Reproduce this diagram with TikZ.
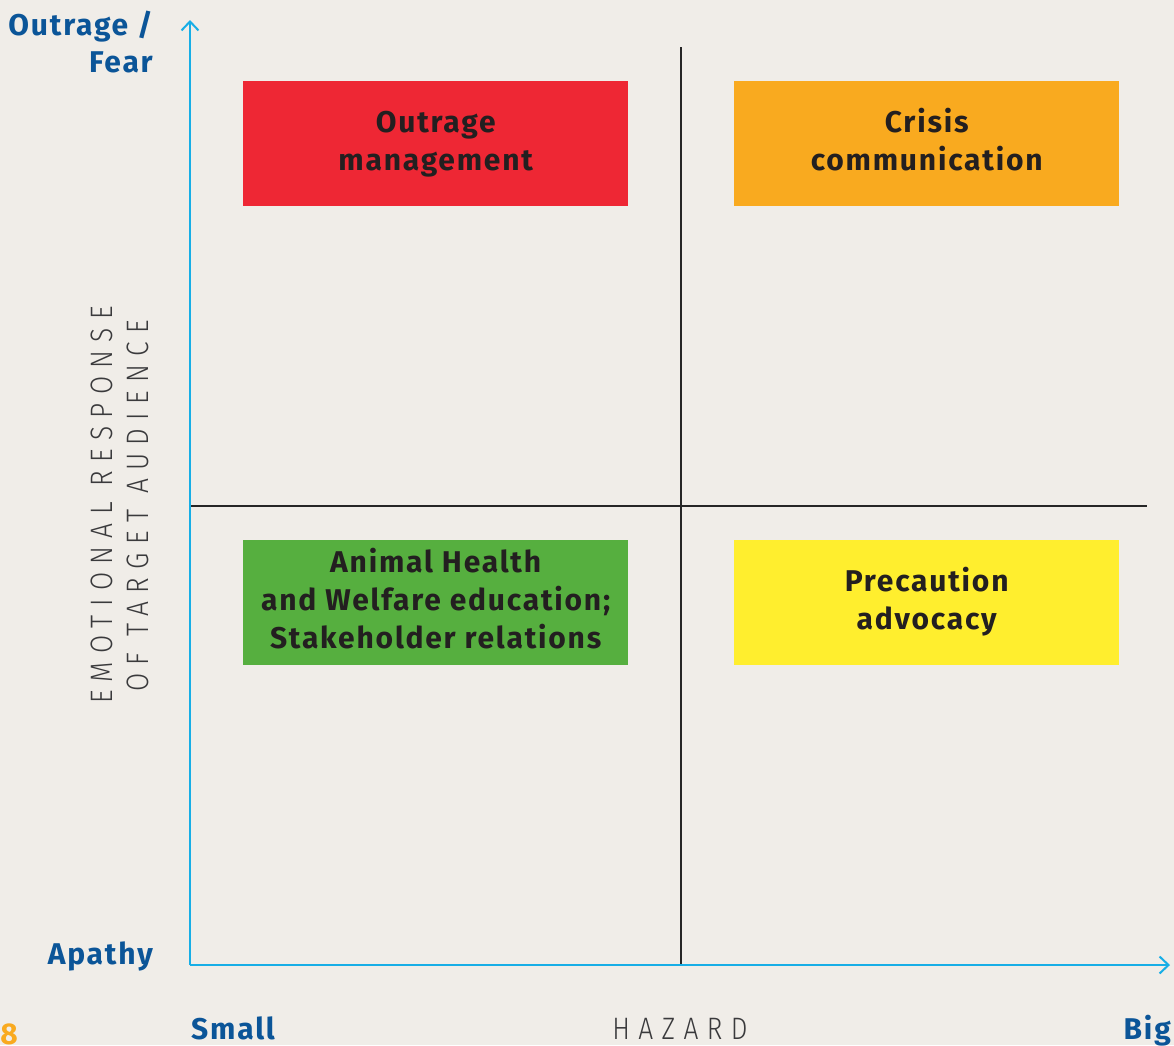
\documentclass[tikz,border=0pt]{standalone}
\usepackage{fontspec}
\setmainfont{Fira Sans}
\newfontfamily\boldfont{Fira Sans}[LetterSpace=6,UprightFont=* Bold]
\newfontfamily\lightfont{Fira Sans Light}[LetterSpace=27,FakeStretch=0.85]
\usetikzlibrary{arrows.meta}
\definecolor{bg}{HTML}{F0EDE8}
\definecolor{qred}{HTML}{EE2734}
\definecolor{qorange}{HTML}{F9AA1F}
\definecolor{qgreen}{HTML}{56AF3F}
\definecolor{qyellow}{HTML}{FFEE2E}
\definecolor{qblue}{HTML}{0B5598}
\definecolor{qcyan}{HTML}{17AEE6}
\definecolor{qtext}{HTML}{231F20}
\definecolor{qgray}{HTML}{3A3A3C}
\newcommand{\wsp}{\hspace{16pt}}
\begin{document}
\begin{tikzpicture}[x=1pt,y=-1pt,
  quad/.style={minimum width=385pt,minimum height=125pt,inner sep=0pt,anchor=north west,
    align=center,text=qtext,font=\boldfont\fontsize{30}{38}\selectfont},
  axlab/.style={text=qblue,font=\boldfont\fontsize{30}{37}\selectfont,inner sep=0pt},
  thin/.style={text=qgray,font=\lightfont\fontsize{31}{36}\selectfont,inner sep=0pt},
  axis/.style={draw=qcyan,line width=2pt,-{Straight Barb[length=9pt,width=17pt,line width=2pt]}},
  divider/.style={draw=black!85,line width=1.3pt}]
\useasboundingbox (0,0) rectangle (1174,1045);
\fill[bg] (0,0) rectangle (1174,1045);
% coordinates
\coordinate (o) at (190,965);
\coordinate (ytip) at (190,20);
\coordinate (xtip) at (1170,965);
\coordinate (vtop) at (681,47);
\coordinate (vbot) at (681,965);
\coordinate (hl) at (190,506);
\coordinate (hr) at (1147,506);
% dividers
\draw[divider] (vtop) -- (vbot);
\draw[divider] (hl) -- (hr);
% axes
\draw[axis] (o) -- (ytip);
\draw[axis] (o) -- (xtip);
% quadrant boxes
\node[quad,fill=qred] (q1) at (243,81) {\strut Outrage\\management\strut};
\node[quad,fill=qorange] (q2) at (734,81) {\strut Crisis\\communication\strut};
\node[quad,fill=qgreen] (q3) at (243,540) {\strut Animal Health\\and Welfare education;\\Stakeholder relations\strut};
\node[quad,fill=qyellow] (q4) at (734,540) {\strut Precaution\\advocacy\strut};
% axis labels
\node[axlab,anchor=base east,align=right] (ytop) at (153,72) {Outrage /\\Fear};
\node[axlab,anchor=base east] (ybot) at (153,964) {Apathy};
\node[axlab,anchor=base west] (xl) at (191,1039) {Small};
\node[axlab,anchor=base east] (xr) at (1171,1039) {Big};
\node[thin,anchor=base] (haz) at (680,1039) {HAZARD};
\node[thin,anchor=base,rotate=90] (em1) at (112,505) {EMOTIONAL\wsp RESPONSE};
\node[thin,anchor=base,rotate=90] (em2) at (148,506) {OF\wsp TARGET\wsp AUDIENCE};
\node[text=qorange,font=\boldfont\fontsize{30}{36}\selectfont,anchor=base east,inner sep=0pt] (pg) at (18,1044) {8};
\end{tikzpicture}
\end{document}
